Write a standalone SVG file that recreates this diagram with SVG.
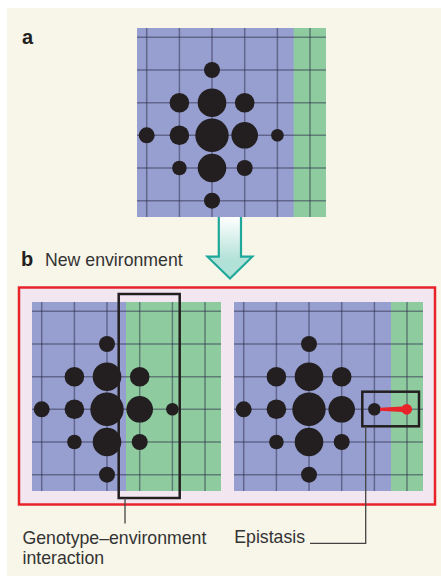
<svg xmlns="http://www.w3.org/2000/svg" width="441" height="576" viewBox="0 0 441 576">
  <style>
    .blue { fill: #969fd0; }
    .green { fill: #8ecca0; }
    .grid line { stroke: #2d2d4a; stroke-opacity: 0.5; stroke-width: 1.5; }
    .dot { fill: #231f20; }
    .box { fill: none; stroke: #231f20; stroke-width: 2.5; }
    .lead { fill: none; stroke: #444; stroke-width: 1.3; }
    .lbl { font-family: "Liberation Sans", Arial, sans-serif; font-size: 17.7px; fill: #333; }
    .tag { font-family: "Liberation Sans", Arial, sans-serif; font-size: 20px; font-weight: bold; fill: #231f20; }
  </style>
  <defs>
    <linearGradient id="arrowGrad" x1="0" y1="217" x2="0" y2="260" gradientUnits="userSpaceOnUse">
      <stop offset="0" stop-color="#ffffff"/>
      <stop offset="1" stop-color="#b2e1d7"/>
    </linearGradient>
    <g id="gridLines" class="grid">
      <line x1="9.7" y1="0" x2="9.7" y2="189"/>
      <line x1="42.4" y1="0" x2="42.4" y2="189"/>
      <line x1="75" y1="0" x2="75" y2="189"/>
      <line x1="107.7" y1="0" x2="107.7" y2="189"/>
      <line x1="140.4" y1="0" x2="140.4" y2="189"/>
      <line x1="173" y1="0" x2="173" y2="189"/>
      <line x1="0" y1="9.3" x2="189" y2="9.3"/>
      <line x1="0" y1="42" x2="189" y2="42"/>
      <line x1="0" y1="74.7" x2="189" y2="74.7"/>
      <line x1="0" y1="107.3" x2="189" y2="107.3"/>
      <line x1="0" y1="140" x2="189" y2="140"/>
      <line x1="0" y1="172.7" x2="189" y2="172.7"/>
    </g>
    <g id="cluster" class="dot">
      <circle cx="75" cy="42" r="8"/>
      <circle cx="42.4" cy="74.7" r="9.8"/>
      <circle cx="75" cy="74.7" r="14.3"/>
      <circle cx="107.7" cy="74.7" r="9.8"/>
      <circle cx="9.7" cy="107.3" r="8"/>
      <circle cx="42.4" cy="107.3" r="9.8"/>
      <circle cx="75" cy="107.3" r="16.7"/>
      <circle cx="107.7" cy="107.3" r="13.3"/>
      <circle cx="140.4" cy="107.3" r="6.3"/>
      <circle cx="42.4" cy="140" r="7.3"/>
      <circle cx="75" cy="140" r="14.3"/>
      <circle cx="107.7" cy="140" r="8"/>
      <circle cx="75" cy="172.7" r="8"/>
    </g>
  </defs>

  <rect x="0" y="0" width="441" height="576" fill="#ffffff"/>
  <rect x="7" y="8" width="434" height="568" fill="#f8f5e9"/>

  <text class="tag" x="22" y="43.5">a</text>

  <g id="panel-a" transform="translate(137,28)">
    <rect class="blue" x="0" y="0" width="189" height="189"/>
    <rect class="green" x="156.7" y="0" width="32.3" height="189"/>
    <use href="#gridLines"/>
    <use href="#cluster"/>
  </g>

  <g id="arrow">
    <path d="M218.8,217 V256.7 H207.5 L230,278.5 L252.3,256.7 H241 V217 Z" fill="url(#arrowGrad)"/>
    <path d="M218.8,217 V256.7 H207.5 L230,278.5 L252.3,256.7 H241 V217" fill="none" stroke="#1fa89a" stroke-width="2.2" stroke-linejoin="miter"/>
  </g>

  <text class="tag" x="21" y="266">b</text>
  <text class="lbl" x="45" y="266">New environment</text>

  <g id="panel-b">
    <rect x="19" y="287.5" width="416" height="217" fill="#f2e6f0" stroke="#e8242a" stroke-width="2.5"/>
  </g>

  <g id="panel-b-left" transform="translate(32,302)">
    <rect class="blue" x="0" y="0" width="189" height="189"/>
    <rect class="green" x="94" y="0" width="95" height="189"/>
    <use href="#gridLines"/>
    <use href="#cluster"/>
  </g>

  <g id="panel-b-right" transform="translate(234,302)">
    <rect class="blue" x="0" y="0" width="189" height="189"/>
    <rect class="green" x="157" y="0" width="32" height="189"/>
    <use href="#gridLines"/>
    <use href="#cluster"/>
    <g id="epistasis-mark" fill="#e8242a">
      <path d="M146,105.8 L168,104.6 L168,110 L146,108.8 Z"/>
      <circle cx="172.7" cy="107.3" r="5.4"/>
    </g>
  </g>

  <g id="gxe-box">
    <rect class="box" x="118.7" y="294" width="61" height="204"/>
  </g>
  <g id="epistasis-box">
    <rect class="box" x="362.3" y="391.7" width="56.7" height="34.6"/>
  </g>

  <g id="connectors">
    <path class="lead" d="M125,498 V523.5"/>
    <path class="lead" d="M365.7,426.3 V543.3 H310"/>
  </g>

  <g id="label-gxe">
    <text class="lbl" x="22.5" y="544">Genotype–environment</text>
    <text class="lbl" x="22.5" y="564.3">interaction</text>
  </g>
  <g id="label-epistasis">
    <text class="lbl" x="234.3" y="543.3">Epistasis</text>
  </g>
</svg>
